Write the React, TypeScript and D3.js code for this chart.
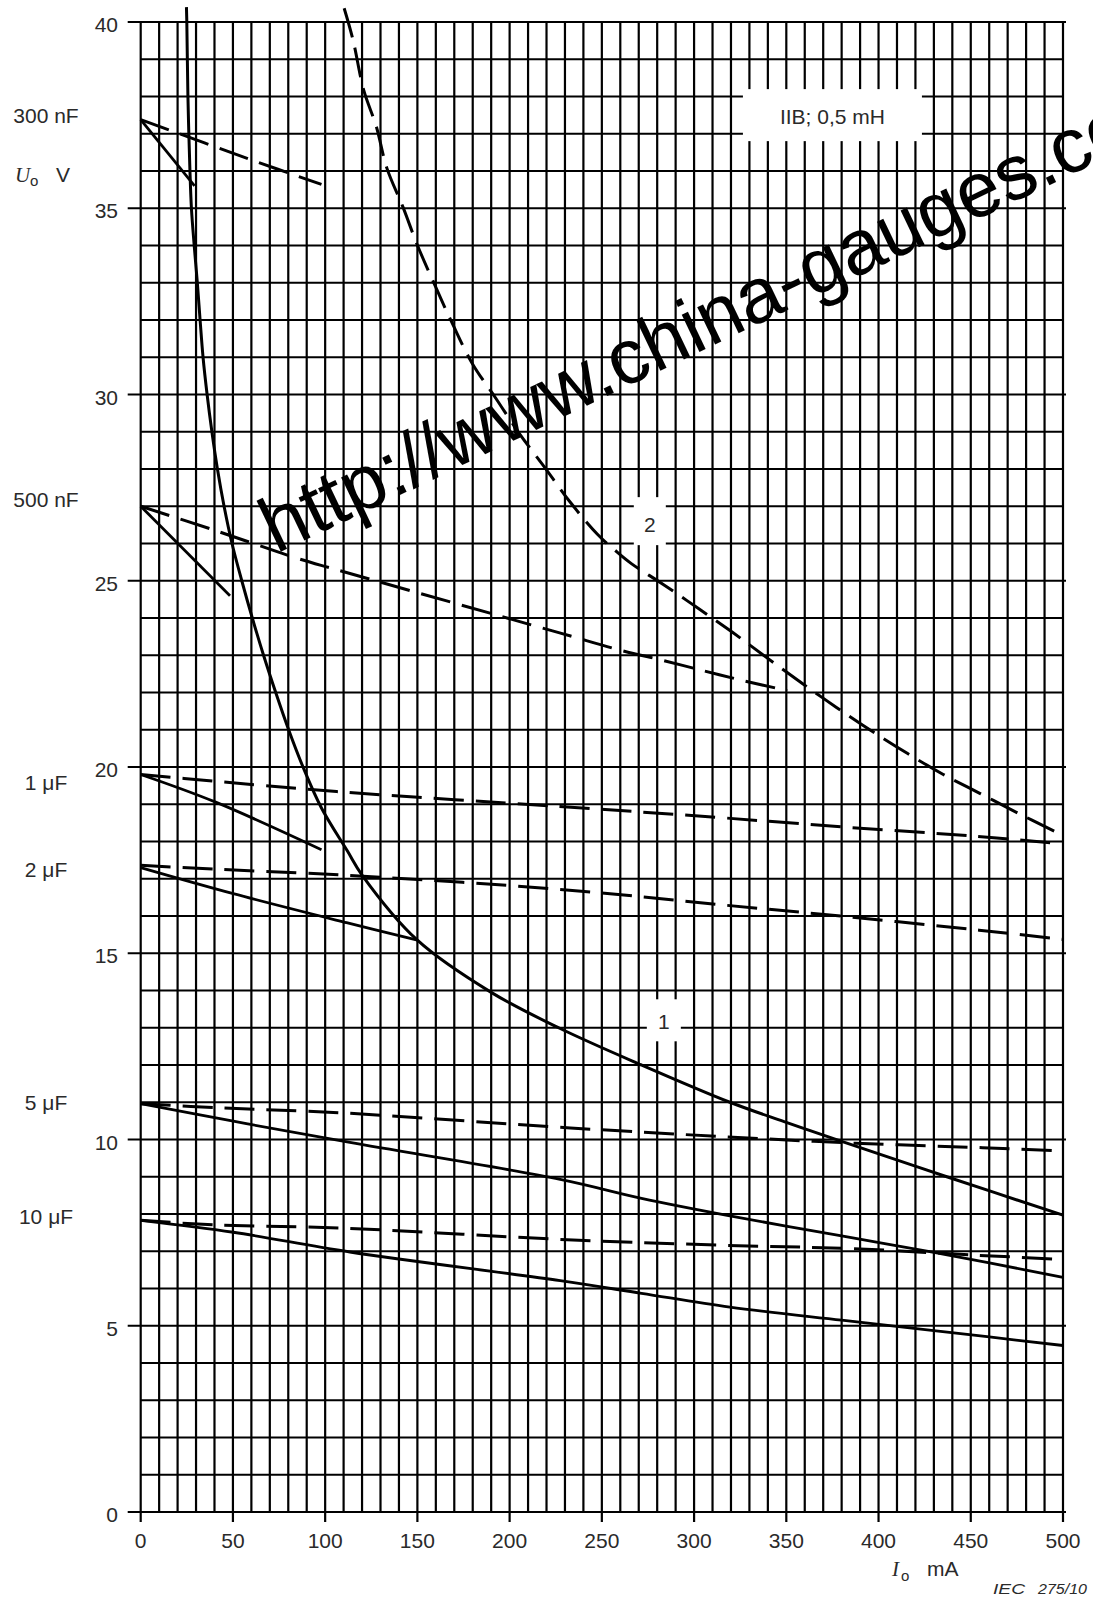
import React from 'react';
import * as d3 from 'd3';

const WIDTH = 1093;
const HEIGHT = 1598;

// Axis ticks
const currentTicks = [0, 50, 100, 150, 200, 250, 300, 350, 400, 450, 500];
const voltageTicks = [0, 5, 10, 15, 20, 25, 30, 35, 40];

// Curve 1 (solid): Io in mA, Uo in V
const curve1Current = [24.8, 25.0, 25.6, 26.1, 26.7, 27.5, 29.0, 30.7, 32.2, 33.8, 36.0, 38.6, 41.6, 45.2, 49.5, 54.8, 60.5, 66.6, 73.2, 80.2, 88, 98, 112, 120, 150, 190, 227.4, 271.5, 319.4, 348.8, 380, 437, 500];
const curve1Voltage = [40.4, 40, 38, 37, 36, 35, 34, 33, 32, 31, 30, 29, 28, 27, 26, 25, 24, 23, 22, 21, 20, 18.9, 17.75, 17.1, 15.35, 13.95, 12.98, 12, 11, 10.48, 9.95, 9, 7.97];

// Curve 2 (dashed)
const curve2Current = [110.3, 115.1, 120.9, 127.7, 133.5, 142.2, 149.9, 159.6, 169.2, 179.9, 192.5, 205, 218.6, 233, 247.6, 258, 266, 283.3, 302.2, 321, 339, 358.7, 377.2, 396.5, 415.8, 435.1, 455.4, 475.7, 496.3, 500];
const curve2Voltage = [40.37, 39.52, 38.17, 37.2, 36.07, 35.03, 34.02, 32.92, 31.88, 30.82, 29.9, 28.97, 28.07, 27.1, 26.25, 25.78, 25.46, 24.9, 24.26, 23.61, 22.95, 22.24, 21.6, 20.96, 20.36, 19.8, 19.28, 18.76, 18.25, 18.16];

// Capacitance names
const capacitanceNames = ['300 nF', '500 nF', '1 μF', '2 μF', '5 μF', '10 μF'];

// Solid capacitance lines
const c300SolidI = [0, 29.2];
const c300SolidU = [37.38, 35.6];
const c500SolidI = [0, 48.4];
const c500SolidU = [27.0, 24.6];
const c1uSolidI = [0, 40, 98];
const c1uSolidU = [19.8, 19.07, 17.78];
const c2uSolidI = [0, 50.2, 111.6, 150];
const c2uSolidU = [17.3, 16.6, 15.82, 15.35];
const c5uSolidI = [0, 50.2, 113.4, 227.4, 271.5, 319.4, 380, 430, 500];
const c5uSolidU = [10.96, 10.49, 9.92, 8.93, 8.42, 7.95, 7.41, 6.97, 6.3];
const c10uSolidI = [0, 50.2, 113.4, 227.4, 271.5, 319.4, 380, 430, 500];
const c10uSolidU = [7.83, 7.51, 6.98, 6.21, 5.87, 5.5, 5.15, 4.87, 4.47];

// Dashed capacitance lines
const c300DashI = [0, 61, 98];
const c300DashU = [37.38, 36.28, 35.64];
const c500DashI = [0, 41, 85, 106, 227.1, 261.2, 283.3, 305.4, 327.4, 350.5];
const c500DashU = [27.0, 26.34, 25.6, 25.3, 23.6, 23.12, 22.86, 22.58, 22.31, 22.05];
const c1uDashI = [0, 35.7, 106.2, 227.1, 311.8, 380.8, 449.9, 496.3, 500];
const c1uDashU = [19.8, 19.64, 19.34, 18.94, 18.65, 18.39, 18.15, 17.95, 17.93];
const c2uDashI = [0, 39.2, 109.8, 230.8, 317, 385.4, 454.5, 500];
const c2uDashU = [17.36, 17.26, 17.1, 16.7, 16.29, 15.97, 15.62, 15.37];
const c5uDashI = [0, 43, 110.7, 232.9, 318.4, 387.4, 456.4, 500];
const c5uDashU = [10.96, 10.85, 10.71, 10.31, 10.07, 9.9, 9.78, 9.69];
const c10uDashI = [0, 39.4, 110, 231.1, 316.6, 385.6, 454.6, 500];
const c10uDashU = [7.83, 7.71, 7.62, 7.31, 7.16, 7.07, 6.89, 6.78];

// Vertical placement (in V) of each capacitance name at the left margin
const capacitanceLabelLevels = [37.5, 27.17, 19.58, 17.26, 11.0, 7.92];

type Pt = [number, number];
const zip = (a: number[], b: number[]): Pt[] => a.map((v, i) => [v, b[i]] as Pt);

const FONT = '"Liberation Sans", Arial, Helvetica, sans-serif';
const SERIF = '"Liberation Serif", "Times New Roman", serif';
const TEXT = '#2a2a2a';

export default function App() {
  const x = d3.scaleLinear().domain([0, 500]).range([140.7, 1063]);
  const y = d3.scaleLinear().domain([0, 40]).range([1512, 22]);

  const line = d3
    .line<Pt>()
    .x((d) => x(d[0]))
    .y((d) => y(d[1]))
    .curve(d3.curveCatmullRom.alpha(0.5));

  const solidSeries: Pt[][] = [
    zip(curve1Current, curve1Voltage),
    zip(c300SolidI, c300SolidU),
    zip(c500SolidI, c500SolidU),
    zip(c1uSolidI, c1uSolidU),
    zip(c2uSolidI, c2uSolidU),
    zip(c5uSolidI, c5uSolidU),
    zip(c10uSolidI, c10uSolidU),
  ];
  const dashedSeries: Pt[][] = [
    zip(c300DashI, c300DashU),
    zip(c500DashI, c500DashU),
    zip(c1uDashI, c1uDashU),
    zip(c2uDashI, c2uDashU),
    zip(c5uDashI, c5uDashU),
    zip(c10uDashI, c10uDashU),
  ];
  const curve2 = zip(curve2Current, curve2Voltage);

  const gridI = d3.range(0, 501, 10);
  const gridU = d3.range(0, 41, 1);

  // white label boxes breaking the grid
  const boxes = [
    { cx: x(375), cy: y(37.5), w: 179, h: 52, text: 'IIB; 0,5 mH', dy: 9 },
    { cx: x(276), cy: y(26.6), w: 32, h: 48, text: '2', dy: 11 },
    { cx: x(283.6), cy: y(13.2), w: 34, h: 42, text: '1', dy: 9 },
  ];

  return (
    <svg
      width={WIDTH}
      height={HEIGHT}
      viewBox={`0 0 ${WIDTH} ${HEIGHT}`}
      style={{ position: 'absolute', left: 0, top: 0, background: '#fff' }}
    >
      <rect x={0} y={0} width={WIDTH} height={HEIGHT} fill="#fff" />

      {/* grid */}
      <g stroke="#000" strokeWidth={2.2}>
        {gridI.map((v) => (
          <line
            key={'v' + v}
            x1={x(v)}
            x2={x(v)}
            y1={y(40)}
            y2={v % 50 === 0 ? y(0) + 10 : y(0)}
          />
        ))}
        {gridU.map((v) => (
          <line
            key={'h' + v}
            x1={v % 5 === 0 ? x(0) - 13 : x(0)}
            x2={v % 5 === 0 ? x(500) + 3 : x(500)}
            y1={y(v)}
            y2={y(v)}
          />
        ))}
      </g>

      {/* label boxes */}
      {boxes.map((b, i) => (
        <rect key={'b' + i} x={b.cx - b.w / 2} y={b.cy - b.h / 2} width={b.w} height={b.h} fill="#fff" />
      ))}

      {/* curves */}
      <g fill="none" stroke="#000" strokeLinecap="butt" strokeLinejoin="round">
        {solidSeries.map((s, i) => (
          <path key={'s' + i} d={line(s) || ''} strokeWidth={i === 0 ? 3 : 2.8} />
        ))}
        {dashedSeries.map((s, i) => (
          <path key={'d' + i} d={line(s) || ''} strokeWidth={3} strokeDasharray="30 12" />
        ))}
        <path d={line(curve2) || ''} strokeWidth={3} strokeDasharray="30 11" />
      </g>

      {/* box texts */}
      {boxes.map((b, i) => (
        <text
          key={'bt' + i}
          x={b.cx}
          y={b.cy + b.dy}
          textAnchor="middle"
          fontFamily={FONT}
          fontSize={21}
          fill={TEXT}
        >
          {b.text}
        </text>
      ))}

      {/* y tick labels */}
      {voltageTicks.map((v) => (
        <text key={'yt' + v} x={118} y={y(v) + 10} textAnchor="end" fontFamily={FONT} fontSize={21} fill={TEXT}>
          {v}
        </text>
      ))}

      {/* x tick labels */}
      {currentTicks.map((v) => (
        <text key={'xt' + v} x={x(v)} y={1548} textAnchor="middle" fontFamily={FONT} fontSize={21} fill={TEXT}>
          {v}
        </text>
      ))}

      {/* capacitance names */}
      {capacitanceNames.map((name, i) => (
        <text
          key={'c' + i}
          x={46}
          y={y(capacitanceLabelLevels[i]) + 7.5}
          textAnchor="middle"
          fontFamily={FONT}
          fontSize={21}
          fill={TEXT}
        >
          {name}
        </text>
      ))}

      {/* y axis title */}
      <text x={15} y={182} fontFamily={SERIF} fontStyle="italic" fontSize={21} fill={TEXT}>
        U
      </text>
      <text x={30} y={186} fontFamily={FONT} fontSize={15} fill={TEXT}>
        o
      </text>
      <text x={56} y={182} fontFamily={FONT} fontSize={21} fill={TEXT}>
        V
      </text>

      {/* x axis title */}
      <text x={892} y={1576} fontFamily={SERIF} fontStyle="italic" fontSize={21} fill={TEXT}>
        I
      </text>
      <text x={901} y={1581} fontFamily={FONT} fontSize={15} fill={TEXT}>
        o
      </text>
      <text x={927} y={1576} fontFamily={FONT} fontSize={21} fill={TEXT}>
        mA
      </text>

      {/* figure reference */}
      <text x={993} y={1594} fontFamily={FONT} fontStyle="italic" fontSize={14} fill={TEXT} textLength={32} lengthAdjust="spacingAndGlyphs">
        IEC
      </text>
      <text x={1038} y={1594} fontFamily={FONT} fontStyle="italic" fontSize={14} fill={TEXT} textLength={49} lengthAdjust="spacingAndGlyphs">
        275/10
      </text>

      {/* watermark */}
      <text
        x={276}
        y={554}
        transform="rotate(-25.5 276 554)"
        fontFamily={FONT}
        fontSize={78}
        fill="#000"
      >
        http://www.china-gauges.co
      </text>
    </svg>
  );
}
